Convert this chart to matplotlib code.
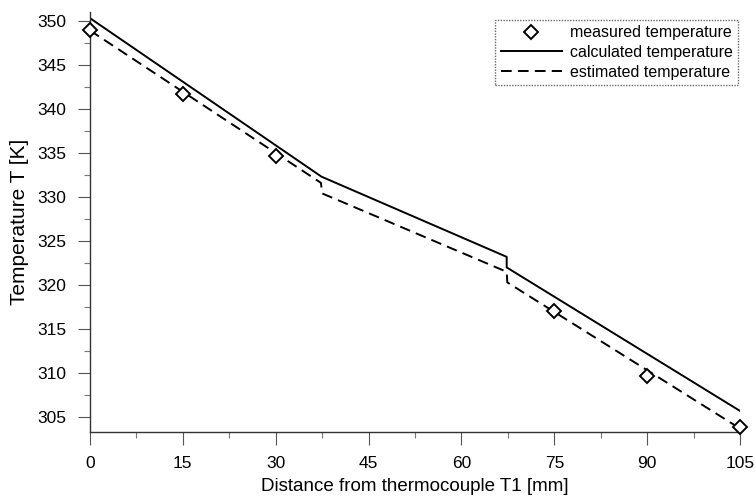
import numpy as np
import matplotlib.pyplot as plt
from matplotlib.ticker import MultipleLocator

plt.rcParams['font.family'] = ['Liberation Sans', 'DejaVu Sans']

# measured points
x_meas = [0, 15, 30, 75, 90, 105]
t_meas = [349.0, 341.7, 334.6, 317.1, 309.7, 303.9]

# calculated (solid) with step at the interfaces
x_calc = [0, 37.4, 67.3, 67.3, 105]
t_calc = [350.3, 332.3, 323.2, 322.0, 305.7]

# estimated (dashed)
x_est = [0, 37.3, 37.5, 67.3, 67.4, 105]
t_est = [348.9, 331.6, 330.4, 321.5, 320.3, 303.7]

fig = plt.figure(figsize=(7.56, 4.99), dpi=100)
ax = fig.add_axes([0.119, 0.134, 0.860, 0.842])

ax.plot(x_calc, t_calc, color='black', lw=1.4, label='calculated temperature')
ax.plot(x_est, t_est, color='black', lw=1.4, ls=(0, (5.5, 3.2)), label='estimated temperature')
ax.plot(x_meas, t_meas, ls='none', marker='D', ms=7, mfc='white', mec='black', mew=1.4,
        label='measured temperature', clip_on=False, zorder=3)

ax.set_xlim(0, 105)
ax.set_ylim(303.3, 351)
ax.xaxis.set_major_locator(MultipleLocator(15))
ax.xaxis.set_minor_locator(MultipleLocator(7.5))
ax.yaxis.set_major_locator(MultipleLocator(5))
ax.yaxis.set_minor_locator(MultipleLocator(2.5))
ax.set_yticks(np.arange(305, 351, 5))

for s in ['top', 'right']:
    ax.spines[s].set_visible(False)
for s in ['left', 'bottom']:
    ax.spines[s].set_linestyle((0, (1, 1)))
    ax.spines[s].set_linewidth(1.0)
    ax.spines[s].set_color('#333333')

ax.tick_params(which='major', direction='out', length=9, width=0.8, color='#555555',
               labelsize=12.5, pad=8)
ax.tick_params(which='minor', direction='out', length=4, width=0.8, color='#777777')

ax.set_xlabel('Distance from thermocouple T1 [mm]', fontsize=13.5, labelpad=5)
ax.set_ylabel('Temperature T [K]', fontsize=15, labelpad=6)

h, l = ax.get_legend_handles_labels()
order = [2, 0, 1]
leg = ax.legend([h[i] for i in order], [l[i] for i in order], loc='upper right',
                bbox_to_anchor=(0.997, 0.982), fontsize=11.5, fancybox=False,
                handlelength=3.8, handletextpad=0.5, borderpad=0.35, labelspacing=0.3,
                borderaxespad=0)
leg.get_frame().set_edgecolor('#444444')
leg.get_frame().set_linestyle((0, (1, 1)))
leg.get_frame().set_linewidth(1.0)

fig.savefig('out.png', dpi=100)
